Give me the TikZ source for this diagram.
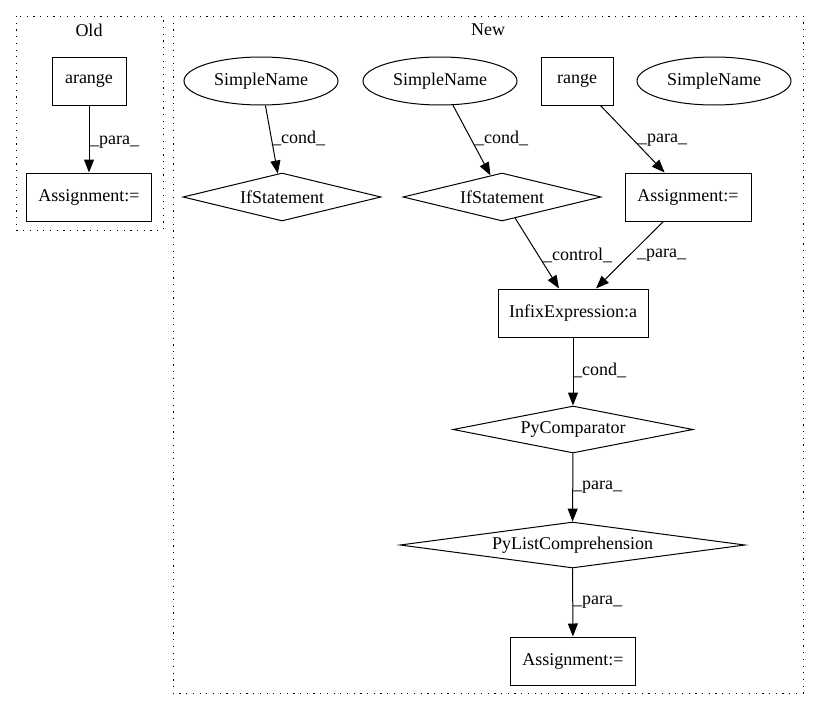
\documentclass[tikz,border=0pt]{standalone}
\usepackage{fontspec}
\setmainfont{Liberation Serif}
\usetikzlibrary{shapes.geometric,arrows.meta}
\begin{document}
\begin{tikzpicture}[x=1pt,y=-1pt,
  font=\fontsize{18pt}{20pt}\selectfont,
  box/.style={draw,rectangle,minimum height=48pt,inner sep=0pt,line width=1pt},
  ell/.style={draw,ellipse,minimum width=154pt,minimum height=48pt,inner sep=0pt,line width=1pt},
  dia/.style={draw,diamond,inner sep=0pt,line width=1pt},
  edge/.style={line width=1pt,-{Triangle[length=13pt,width=10pt]}},
  lbl/.style={anchor=west,inner sep=0pt},
  cluster/.style={line width=1pt,dash pattern=on 1.2pt off 5.5pt}]
\useasboundingbox (0,0) rectangle (819,712);
% clusters
\draw[cluster] (16,16) rectangle (163,230);
\node (oldlbl) at (89,30) {Old};
\draw[cluster] (173,16) rectangle (803,693);
\node (newlbl) at (488,30) {New};
% Old nodes
\node[box,minimum width=74pt] (arange) at (89,81) {arange};
\node[box,minimum width=125pt] (asg0) at (89,197) {Assignment:=};
\draw[edge] (arange) -- (asg0);
\node[lbl] (l0) at (90,142) {\_para\_};
% New nodes
\node[ell] (sn1) at (261,81) {SimpleName};
\node[ell] (sn2) at (440,81) {SimpleName};
\node[box,minimum width=72pt] (range) at (577,81) {range};
\node[ell] (sn3) at (714,81) {SimpleName};
\node[dia,aspect=4.1,minimum width=198pt,minimum height=48pt] (if1) at (282,197) {IfStatement};
\node[dia,aspect=4.1,minimum width=198pt,minimum height=48pt] (if2) at (502,197) {IfStatement};
\node[box,minimum width=126pt] (asg1) at (688,197) {Assignment:=};
\node[box,minimum width=150pt] (infix) at (573,313) {InfixExpression:a};
\node[dia,aspect=5.1,minimum width=240pt,minimum height=47pt] (pycmp) at (573,429.5) {PyComparator};
\node[dia,aspect=7.5,minimum width=345pt,minimum height=46pt] (pylist) at (572.5,545) {PyListComprehension};
\node[box,minimum width=125pt] (asg2) at (573,661) {Assignment:=};
% edges
\draw[edge] (sn1) -- (if1);
\draw[edge] (sn2) -- (if2);
\draw[edge] (range) -- (asg1);
\draw[edge] (if2) -- ([xshift=-14pt]infix.north);
\draw[edge] (asg1) -- ([xshift=23pt]infix.north);
\draw[edge] (infix) -- (pycmp);
\draw[edge] (pycmp) -- (pylist);
\draw[edge] (pylist) -- (asg2);
% labels
\node[lbl] (l1) at (272,138) {\_cond\_};
\node[lbl] (l2) at (475,138) {\_cond\_};
\node[lbl] (l3) at (638,140) {\_para\_};
\node[lbl] (l4) at (543,255) {\_control\_};
\node[lbl] (l5) at (637,255) {\_para\_};
\node[lbl] (l6) at (573,370) {\_cond\_};
\node[lbl] (l7) at (573,487) {\_para\_};
\node[lbl] (l8) at (573,602) {\_para\_};
\end{tikzpicture}
\end{document}
